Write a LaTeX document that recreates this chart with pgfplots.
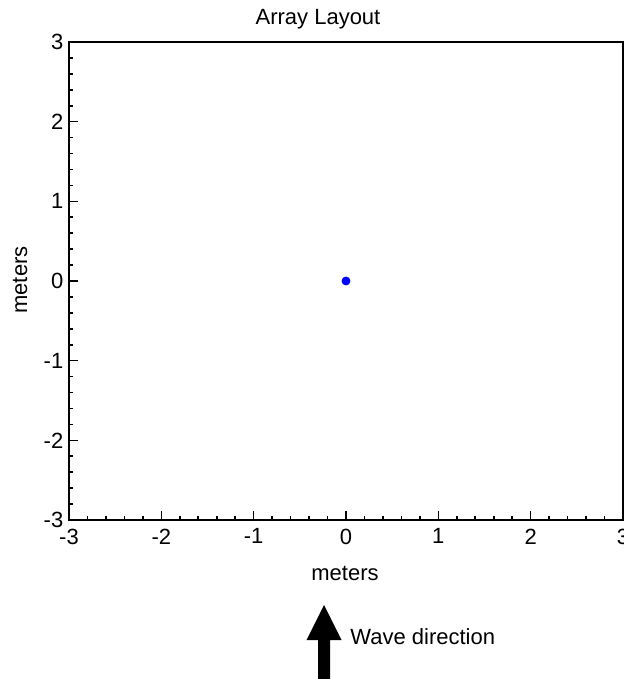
\documentclass[border=0pt]{standalone}
\usepackage{fontspec}
\setmainfont{Liberation Sans}
\usepackage{pgfplots}
\pgfplotsset{compat=1.18}

\begin{document}
\fontsize{11}{13}\selectfont
\begin{tikzpicture}
\begin{axis}[
    scale only axis,
    width=277pt, height=239pt,
    xmin=-3, xmax=3, ymin=-3, ymax=3,
    xtick={-3,...,3}, ytick={-3,...,3},
    minor tick num=4,
    tick pos=left,
    tick align=inside,
    major tick length=4.5pt,
    minor tick length=2pt,
    axis line style={line width=0.9pt},
    every tick/.style={black, line width=0.8pt},
    ticklabel style={font=\fontsize{11}{13}\selectfont},
    /pgf/number format/assume math mode=true,
    xticklabel style={yshift=-0.5pt},
    yticklabel style={xshift=1pt},
    clip=false,
]
\addplot[only marks, mark=*, mark size=2pt, blue] coordinates {(0,0)};
\end{axis}
% title and axis labels
\node at (124.5pt,250.5pt) {Array Layout};
\node at (138pt,-26.5pt) {meters};
\node[rotate=90] at (-24.5pt,120pt) {meters};
% wave direction arrow
\fill[black] (127.5pt,-42.5pt) -- (136.25pt,-60pt) -- (130.5pt,-60pt) -- (130.5pt,-80pt)
  -- (124.5pt,-80pt) -- (124.5pt,-60pt) -- (118.75pt,-60pt) -- cycle;
\node[anchor=west, inner sep=0pt] at (140.5pt,-58.5pt) {Wave direction};
\pgfresetboundingbox
\path[use as bounding box] (-34.5pt,-79.5pt) rectangle (277.5pt,260pt);
\end{tikzpicture}
\end{document}
